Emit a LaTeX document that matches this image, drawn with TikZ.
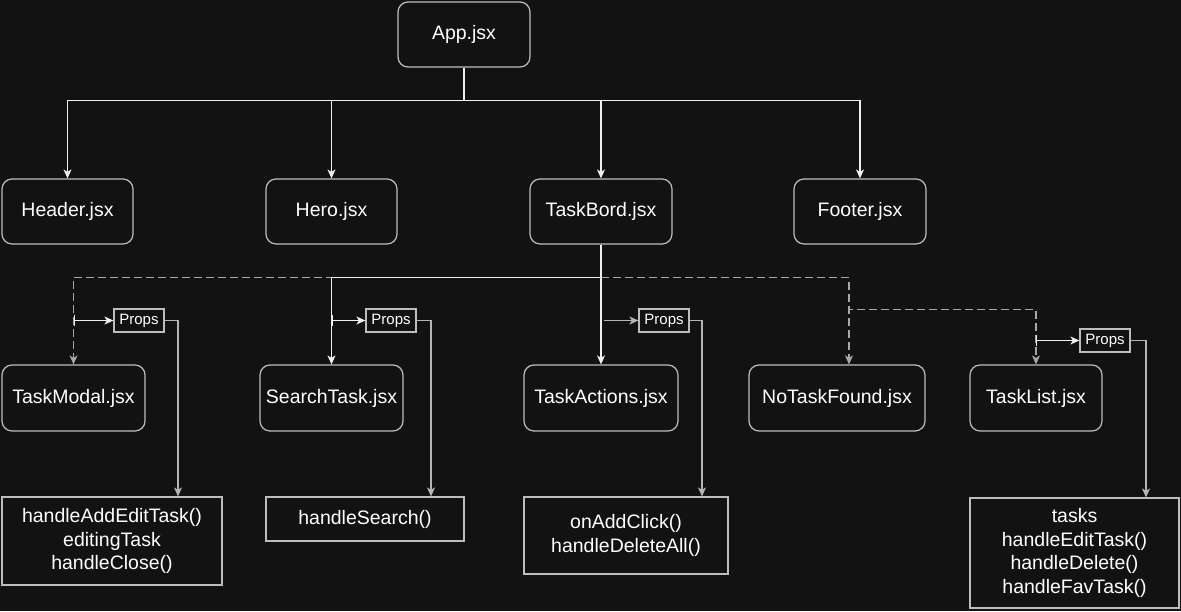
\documentclass[tikz,border=0pt]{standalone}
\usepackage{fontspec}
\setmainfont{Liberation Sans}
\usetikzlibrary{arrows.meta}
\definecolor{bgc}{HTML}{121212}
\definecolor{boxline}{HTML}{BDBDBD}
\definecolor{mainline}{HTML}{F0F0F0}
\definecolor{propline}{HTML}{B5B5B5}
\definecolor{dashline}{HTML}{A8A8A8}
\begin{document}
\begin{tikzpicture}[x=1pt,y=-1pt,
  rbox/.style={draw=boxline,line width=1.2pt,rounded corners=10pt,fill=bgc,text=white,
    inner sep=0pt,font=\fontsize{19.5}{24}\selectfont},
  sbox/.style={draw=boxline,line width=1.2pt,fill=bgc,text=white,align=center,
    inner sep=0pt,font=\fontsize{19.5}{23.5}\selectfont},
  propbox/.style={draw=boxline,line width=1.2pt,fill=bgc,text=white,inner sep=0pt,
    minimum width=50pt,minimum height=23pt,font=\fontsize{15}{18}\selectfont},
  tip/.style={-{Stealth[length=9pt,width=8pt,inset=2.5pt]}},
  arr/.style={tip,draw=mainline,line width=1.2pt},
  dsh/.style={tip,draw=dashline,line width=1.2pt,dash pattern=on 8pt off 4pt},
  parr/.style={{Bar[width=11pt]}-{Stealth[length=9pt,width=8pt,inset=2.5pt]},draw=mainline,line width=1.2pt},
  pline/.style={tip,draw=propline,line width=1.2pt}
]
\fill[bgc] (0,0) rectangle (1181,611);
\useasboundingbox (0,0) rectangle (1181,611);

% top level
\node[rbox,minimum width=132pt,minimum height=65pt] (app) at (464,34.5) {App.jsx};
\node[rbox,minimum width=131pt,minimum height=65pt] (header) at (67.5,211.5) {Header.jsx};
\node[rbox,minimum width=131pt,minimum height=65pt] (hero) at (331.5,211.5) {Hero.jsx};
\node[rbox,minimum width=142pt,minimum height=65pt] (taskbord) at (601,211.5) {TaskBord.jsx};
\node[rbox,minimum width=132pt,minimum height=65pt] (footer) at (860,211.5) {Footer.jsx};

% second level
\node[rbox,minimum width=143pt,minimum height=66pt] (modal) at (73.5,398) {TaskModal.jsx};
\node[rbox,minimum width=143pt,minimum height=66pt] (search) at (331.5,398) {SearchTask.jsx};
\node[rbox,minimum width=154pt,minimum height=66pt] (actions) at (601,398) {TaskActions.jsx};
\node[rbox,minimum width=176pt,minimum height=66pt] (notask) at (837,398) {NoTaskFound.jsx};
\node[rbox,minimum width=132pt,minimum height=66pt] (tasklist) at (1036,398) {TaskList.jsx};

% props
\node[propbox] (p1) at (139,320.5) {Props};
\node[propbox] (p2) at (391,320.5) {Props};
\node[propbox] (p3) at (664,320.5) {Props};
\node[propbox] (p4) at (1105,340.5) {Props};

% bottom boxes
\node[sbox,minimum width=220pt,minimum height=88pt] (b1) at (112,541) {handleAddEditTask()\\editingTask\\handleClose()};
\node[sbox,minimum width=198pt,minimum height=44pt] (b2) at (365,519) {handleSearch()};
\node[sbox,minimum width=204pt,minimum height=77pt] (b3) at (626,535.5) {onAddClick()\\handleDeleteAll()};
\node[sbox,minimum width=209pt,minimum height=110pt] (b4) at (1074.5,553) {tasks\\handleEditTask()\\handleDelete()\\handleFavTask()};

% App connectors
\coordinate (bus) at ([yshift=-33pt]app.south);
\draw[arr] (app.south) -- (bus) -| (header.north);
\draw[arr] (app.south) -- (bus) -| (hero.north);
\draw[arr] (app.south) -- (bus) -| (taskbord.north);
\draw[arr] (app.south) -- (bus) -| (footer.north);

% TaskBord connectors
\coordinate (split) at ([yshift=-33pt]taskbord.south);
\draw[dsh] (taskbord.south) -- (split) -| (modal.north);
\draw[dsh] (split) -| ([xshift=12pt]notask.north);
\draw[dsh] (split) -| ([xshift=12pt,yshift=55pt]notask.north) -| (tasklist.north);
\draw[arr] (taskbord.south) -- (split) -| (search.north);
\draw[arr] (taskbord.south) -- (actions.north);

% props arrows
\draw[parr] (modal.north |- p1.west) -- (p1.west);
\draw[parr] (search.north |- p2.west) -- (p2.west);
\draw[arr,draw=propline] ([xshift=3pt]actions.north |- p3.west) -- (p3.west);
\draw[parr] (tasklist.north |- p4.west) -- (p4.west);

% props to bottom boxes
\draw[pline] (p1.east) -| ([xshift=66pt]b1.north);
\draw[pline] (p2.east) -| ([xshift=66pt]b2.north);
\draw[pline] (p3.east) -| ([xshift=76pt]b3.north);
\draw[pline] (p4.east) -| ([xshift=71.5pt]b4.north);
\end{tikzpicture}
\end{document}
